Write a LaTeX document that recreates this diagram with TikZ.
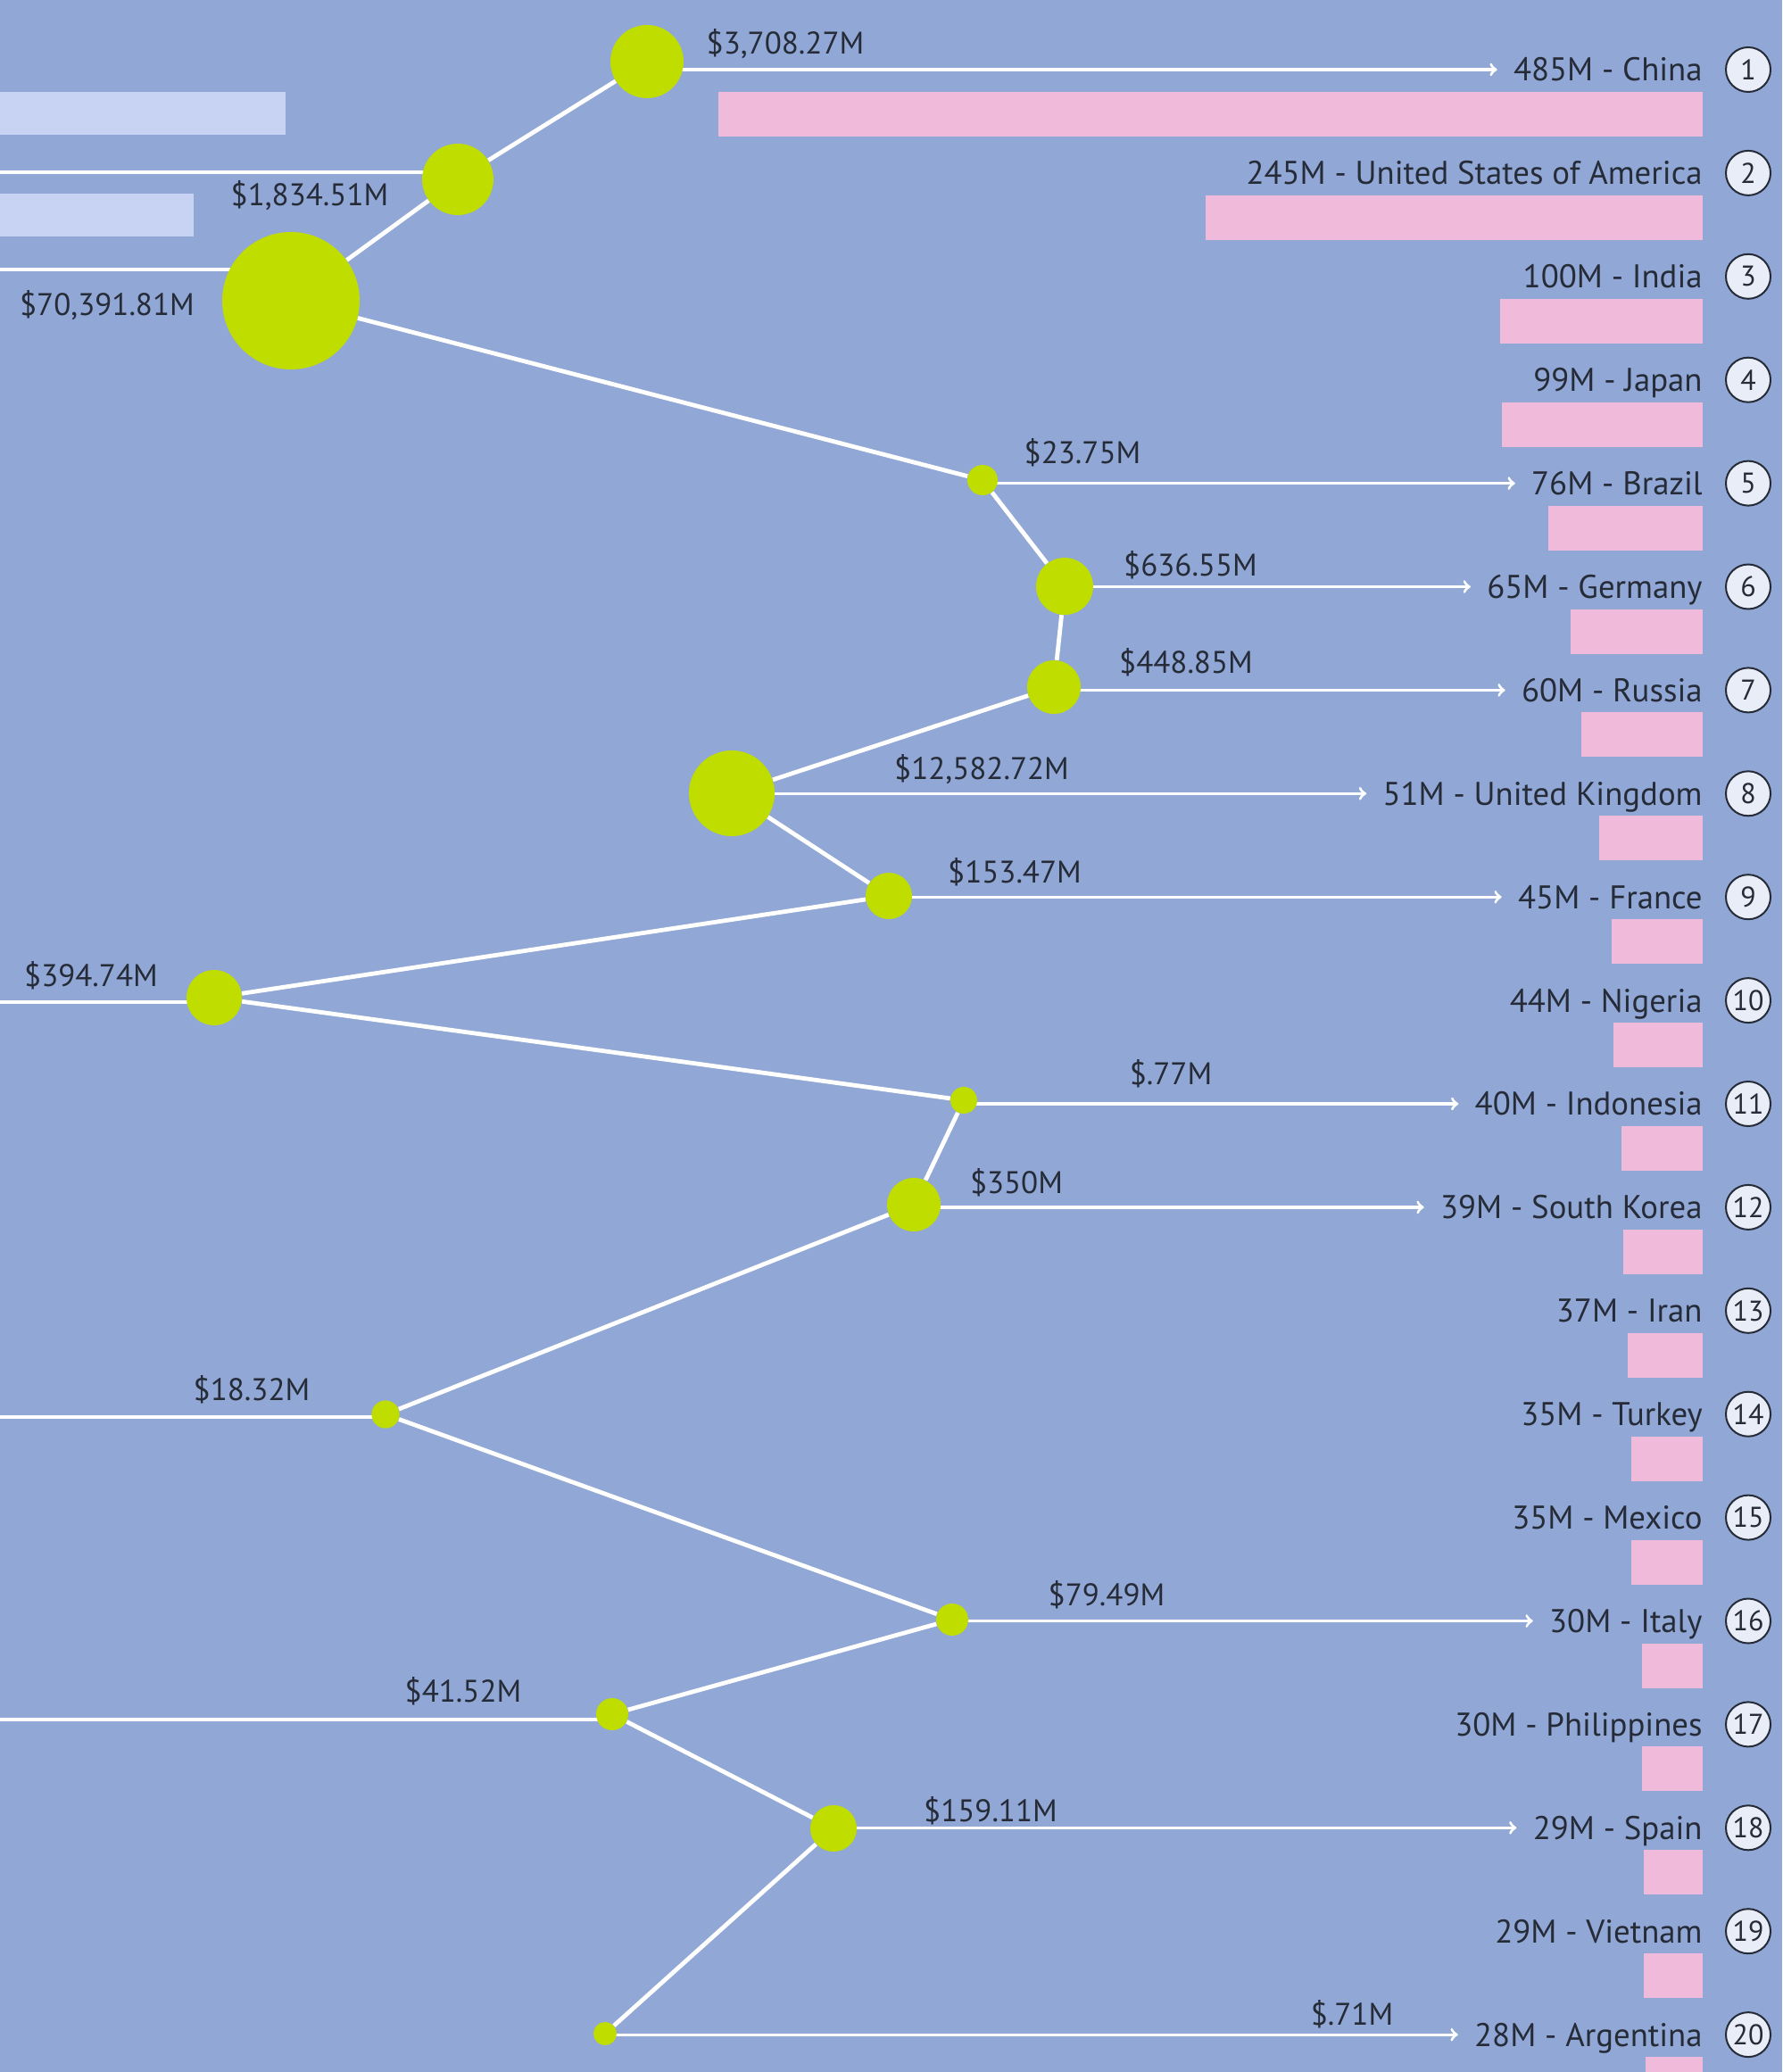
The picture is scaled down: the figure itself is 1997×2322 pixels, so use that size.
\documentclass[tikz,border=0pt]{standalone}
\usepackage{fontspec}
\setmainfont{PT Sans}
\usetikzlibrary{calc}
\usetikzlibrary{arrows}
\usepackage{xcolor}
\definecolor{bgblue}{RGB}{145,167,213}
\definecolor{dotgreen}{RGB}{191,222,0}
\definecolor{barpink}{RGB}{240,187,218}
\definecolor{barlilac}{RGB}{200,211,244}
\definecolor{ink}{RGB}{38,43,56}
\definecolor{numfill}{RGB}{233,237,248}

\begin{document}
\begin{tikzpicture}[x=.5pt, y=-.5pt, >=to,
 lbl/.style={text=ink, font=\fontsize{18.4}{21}\selectfont, inner sep=0, text height=12.9pt, text depth=0pt},
 vlbl/.style={text=ink, font=\fontsize{17.5}{20}\selectfont, inner sep=0, text height=12.3pt, text depth=0pt},
 dot/.style={circle, fill=dotgreen, inner sep=0},
 numcirc/.style={circle, draw=ink, line width=1pt, fill=numfill, minimum size=25pt, inner sep=0, text=ink, font=\fontsize{16}{18}\selectfont},
 link/.style={white, line width=2.4pt},
 hline/.style={white, line width=1.6pt}]
\useasboundingbox (0,0) rectangle (1997,2322);
\clip (0,0) rectangle (1997,2322);
\fill[bgblue] (0,0) rectangle (1997,2322);
\fill[barlilac] (0,103) rectangle (320,151);
\fill[barlilac] (0,217) rectangle (217,265);
\foreach \n/\val/\cty in {1/485/China, 2/245/United States of America, 3/100/India, 4/99/Japan, 5/76/Brazil, 6/65/Germany, 7/60/Russia, 8/51/United Kingdom, 9/45/France, 10/44/Nigeria, 11/40/Indonesia, 12/39/South Korea, 13/37/Iran, 14/35/Turkey, 15/35/Mexico, 16/30/Italy, 17/30/Philippines, 18/29/Spain, 19/29/Vietnam, 20/28/Argentina} {
 \pgfmathsetmacro\y{78+(\n-1)*115.9}
 \fill[barpink] ({1908-2.275*\val},\y+25) rectangle (1908,\y+75);
 \node[lbl, anchor=east] (lbl\n) at (1908,\y) {\val M - \cty};
 \node[numcirc] (num\n) at (1959,\y) {\n};
}
\foreach \d/\x/\y in {A/725/69, B/513/201, C/326/337, D/1101/538, E/1193/657, F/1181/770, G/820/889, H/996/1004, I/240/1118, J/1080/1233, K/1024/1350, L/432/1585, M/1067/1815, N/686/1921, O/934/2049, P/678/2279}
 \coordinate (c\d) at (\x,\y);
\coordinate (inB) at (0,193);
\coordinate (inC) at (0,302);
\coordinate (inI) at (0,1123);
\coordinate (inL) at (0,1588);
\coordinate (inN) at (0,1927);
\foreach \d in {B,C,I,L,N}
 \draw[hline] (in\d) -- (in\d -| c\d);
\foreach \d/\n in {A/1, D/5, E/6, F/7, G/8, H/9, J/11, K/12, M/16, O/18, P/20}
 \draw[hline, ->, shorten >=9pt] (c\d |- lbl\n) -- (lbl\n);
\foreach \d/\rad in {A/41, B/40, C/77, D/17, E/32, F/30, G/48, H/26, I/31, J/15, K/30, L/15.6, M/18, N/18, O/26, P/13}
 \node[dot, minimum size=\rad pt] (dot\d) at (c\d) {};
\foreach \a/\b in {C/B, B/A, C/D, D/E, E/F, F/G, G/H, H/I, I/J, J/K, K/L, L/M, M/N, N/O, O/P}
 \draw[link] (dot\a) -- (dot\b);
\foreach \d/\x/\y/\t in {A/880/48/{\$3,708.27M}, B/347/218/{\$1,834.51M}, C/120/341/{\$70,391.81M}, D/1213/507/{\$23.75M}, E/1334/633/{\$636.55M}, F/1329/742/{\$448.85M}, G/1100/861/{\$12,582.72M}, H/1137/977/{\$153.47M}, I/102/1093/{\$394.74M}, J/1312/1203/{\$.77M}, K/1139/1325/{\$350M}, L/282/1557/{\$18.32M}, M/1240/1787/{\$79.49M}, N/519/1895/{\$41.52M}, O/1110/2029/{\$159.11M}, P/1515/2257/{\$.71M}}
 \node[vlbl] (val\d) at (\x,\y) {\t};
\end{tikzpicture}
\end{document}
